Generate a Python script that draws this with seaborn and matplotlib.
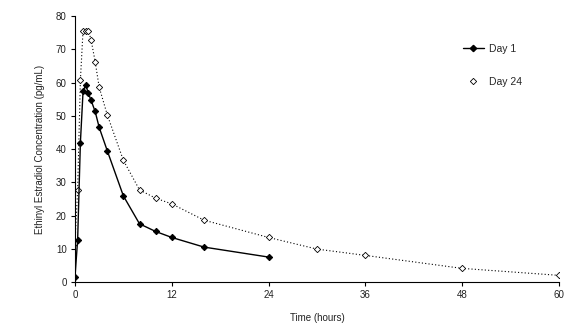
import matplotlib
matplotlib.use("Agg")
import matplotlib.pyplot as plt
from matplotlib.lines import Line2D
import seaborn as sns
import pandas as pd

day1_time = [0, 0.33, 0.67, 1, 1.33, 1.67, 2, 2.5, 3, 4, 6, 8, 10, 12, 16, 24]
day1_conc = [1.5, 12.7, 41.9, 57.3, 59.3, 56.7, 54.6, 51.3, 46.5, 39.5, 25.9, 17.5, 15.2, 13.4, 10.5, 7.5]

day24_time = [0, 0.33, 0.67, 1, 1.33, 1.67, 2, 2.5, 3, 4, 6, 8, 10, 12, 16, 24, 30, 36, 48, 60]
day24_conc = [11.8, 27.7, 60.7, 75.6, 75.4, 75.6, 72.8, 66.3, 58.6, 50.3, 36.6, 27.7, 25.2, 23.5, 18.6, 13.4, 9.9, 8.0, 4.1, 2.0]

x_ticks = [0, 12, 24, 36, 48, 60]
y_ticks = [0, 10, 20, 30, 40, 50, 60, 70, 80]
series_names = ["Day 1", "Day 24"]

sns.set_style("ticks")
plt.rcParams['font.family'] = ['Liberation Sans', 'DejaVu Sans']
plt.rcParams['font.size'] = 7

fig = plt.figure(figsize=(5.75, 3.27), dpi=100)
ax = fig.add_axes([0.1304, 0.1376, 0.8416, 0.8134])

df1 = pd.DataFrame({"t": day1_time, "c": day1_conc})
df24 = pd.DataFrame({"t": day24_time, "c": day24_conc})

sns.lineplot(data=df24, x="t", y="c", ax=ax, color="black", linestyle=(0, (1, 2)),
             linewidth=0.8, marker="D", markersize=3.2, markerfacecolor="white",
             markeredgecolor="black", markeredgewidth=0.6)
sns.lineplot(data=df1, x="t", y="c", ax=ax, color="black", linewidth=1.0,
             marker="D", markersize=3.2, markerfacecolor="black",
             markeredgecolor="black")

ax.set_xlim(0, 60)
ax.set_ylim(0, 80)
ax.set_xticks(x_ticks)
ax.set_yticks(y_ticks)
ax.tick_params(axis="both", labelsize=7, length=3, width=0.8, color="black", labelcolor="#222222", pad=3)
for s in ["left", "bottom"]:
    ax.spines[s].set_linewidth(0.8)
    ax.spines[s].set_color("black")
sns.despine(ax=ax)
ax.set_xlabel("Time (hours)", fontsize=7, labelpad=9, color="#222222")
ax.set_ylabel("Ethinyl Estradiol Concentration (pg/mL)", fontsize=7, labelpad=8, color="#222222")

h1 = Line2D([], [], color="black", linewidth=1.0, marker="D", markersize=3.2,
            markerfacecolor="black")
h2 = Line2D([], [], color="black", linestyle="none", marker="D", markersize=3.2,
            markerfacecolor="white", markeredgewidth=0.6)
ax.legend([h1, h2], series_names, loc="upper left", bbox_to_anchor=(0.782, 0.93),
          frameon=False, fontsize=7.5, handlelength=2.0, handletextpad=0.5,
          labelspacing=2.2)

fig.savefig("out.png", dpi=100)
